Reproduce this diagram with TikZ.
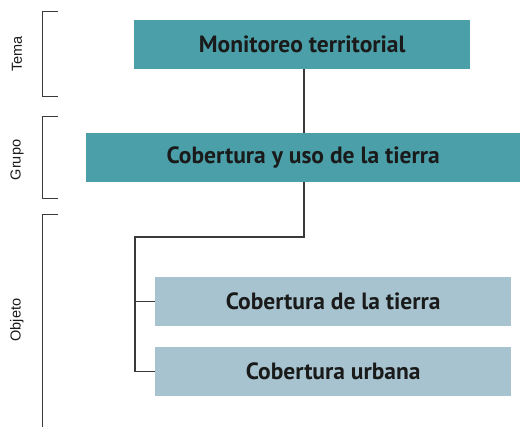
\documentclass[tikz,border=0pt]{standalone}
\usepackage{fontspec}
\setmainfont{PT Sans}
\newfontfamily\labfont{Liberation Sans}
\definecolor{teal1}{HTML}{4A9FA8}
\definecolor{lblue}{HTML}{A6C3CF}
\definecolor{lin}{HTML}{3A3A3A}
\definecolor{txt}{HTML}{1A1A1A}
\begin{document}
\begin{tikzpicture}[x=1pt,y=-1pt,
  box/.style={anchor=north west,inner sep=0pt,font=\fontsize{23.5}{27}\selectfont\bfseries,text=txt},
  conn/.style={draw=lin,line width=1.1pt},
  brk/.style={draw=lin,line width=1pt},
  lab/.style={rotate=90,font=\labfont\fontsize{14.5}{16}\selectfont,text=txt}]
\useasboundingbox (0,0) rectangle (524,427);
\node[box,fill=teal1,minimum width=336pt,minimum height=49pt] (m) at (134,20) {Monitoreo territorial};
\node[box,fill=teal1,minimum width=434pt,minimum height=49pt] (c) at (86,133) {Cobertura y uso de la tierra};
\node[box,fill=lblue,minimum width=356pt,minimum height=49pt] (t) at (155,277) {Cobertura de la tierra};
\node[box,fill=lblue,minimum width=356pt,minimum height=49pt] (u) at (155,347) {Cobertura urbana};
\coordinate (j) at (304,237);
\coordinate (k) at (135,237);
\draw[conn] (m.south -| j) -- (c.north -| j);
\draw[conn] (c.south -| j) -- (j) -- (k) |- (u.west);
\draw[conn] (k |- t.west) -- (t.west);
% brackets
\coordinate (b1a) at (42,12); \coordinate (b1b) at (42,97);
\coordinate (b2a) at (42,117); \coordinate (b2b) at (42,199);
\coordinate (b3a) at (42,215); \coordinate (b3b) at (42,427);
\draw[brk] (58,12) -- (b1a) -- (b1b) -- (58,97);
\draw[brk] (58,117) -- (b2a) -- (b2b) -- (58,199);
\draw[brk] (58,215) -- (b3a) -- (b3b);
\node[lab] (l1) at (17,54) {Tema};
\node[lab] (l2) at (17,160) {Grupo};
\node[lab] (l3) at (17,320) {Objeto};
\end{tikzpicture}
\end{document}
